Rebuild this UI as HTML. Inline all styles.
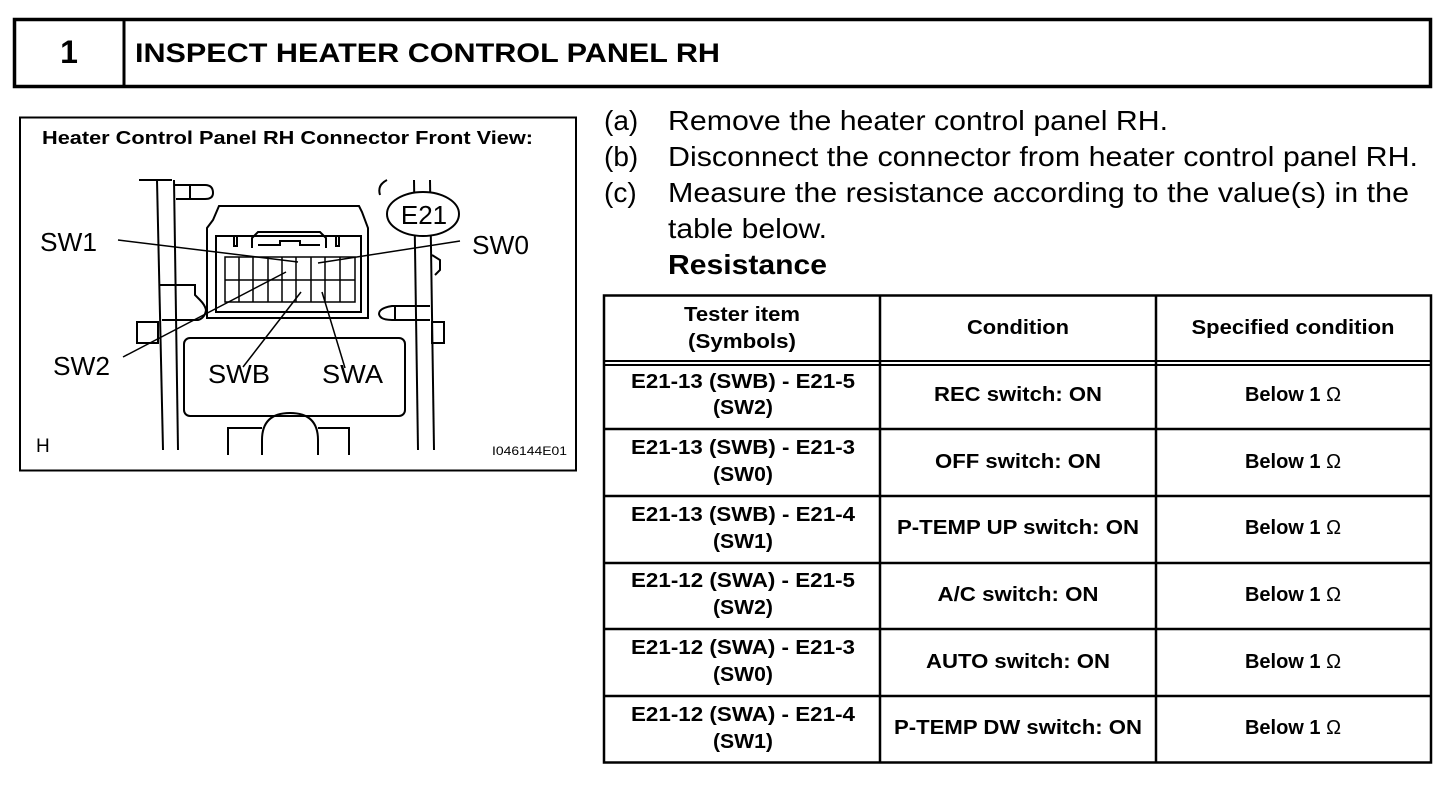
<!DOCTYPE html>
<html><head><meta charset="utf-8"><style>
html,body{margin:0;padding:0;background:#fff;}
svg{display:block;font-family:"Liberation Sans",Arial,sans-serif;}
.b{font-weight:bold;}
</style></head><body>
<svg width="1456" height="790" viewBox="0 0 1456 790" xmlns="http://www.w3.org/2000/svg">
<!-- title -->
<rect x="14.5" y="19.5" width="1416" height="67" fill="none" stroke="#000" stroke-width="3.5"/>
<line x1="124" y1="19" x2="124" y2="87" stroke="#000" stroke-width="3"/>
<text x="69" y="63" font-size="32" class="b" text-anchor="middle">1</text>
<text x="135" y="62" font-size="27" class="b" textLength="585" lengthAdjust="spacingAndGlyphs">INSPECT HEATER CONTROL PANEL RH</text>

<!-- diagram box -->
<rect x="20" y="117.5" width="556" height="353" fill="none" stroke="#000" stroke-width="2"/>
<text x="42" y="144" font-size="18" class="b" textLength="491" lengthAdjust="spacingAndGlyphs">Heater Control Panel RH Connector Front View:</text>
<g stroke="#000" stroke-width="2" fill="none">
<line x1="157" y1="180" x2="163" y2="450"/>
<line x1="174" y1="180" x2="178" y2="450"/>
<line x1="139" y1="180" x2="172" y2="180"/>
<path d="M174 185 H205 Q213 185 213 193 Q213 199 205 199 H176"/>
<line x1="190" y1="185" x2="190" y2="199"/>
<line x1="414" y1="180" x2="418" y2="450"/>
<line x1="430" y1="180" x2="434" y2="450"/>
<path d="M387 180 Q377 185 380 195"/>
<path d="M432 255 L440 260 L440 270 L435 275"/>
<path d="M160 285 H195 V295 L200 300 Q205 305 206 310 Q205 318 198 320 H162"/>
<rect x="137" y="322" width="21" height="21"/>
<rect x="432" y="322" width="12" height="21"/>
<path d="M430 306 H392 Q379 308 379 314 Q380 320 392 320 H430"/>
<line x1="395" y1="306" x2="395" y2="320"/>
<path d="M207 318 V228 L213 220 L219 206 H359 L362 212 L368 228 V318 Z"/>
<rect x="216" y="236" width="145" height="76"/>
<rect x="225" y="257" width="130" height="45" stroke-width="1.5"/>
<g stroke-width="1.5">
<line x1="225" y1="280" x2="355" y2="280"/>
<line x1="239" y1="257" x2="239" y2="302"/>
<line x1="253" y1="257" x2="253" y2="302"/>
<line x1="268" y1="257" x2="268" y2="302"/>
<line x1="282" y1="257" x2="282" y2="302"/>
<line x1="296" y1="257" x2="296" y2="302"/>
<line x1="311" y1="257" x2="311" y2="302"/>
<line x1="325" y1="257" x2="325" y2="302"/>
<line x1="340" y1="257" x2="340" y2="302"/>
</g>
<path d="M252 248 V238 L258 232 H320 L326 238 V248 M258 245 H280 V241 H300 V245 H320"/>
<rect x="234" y="236" width="3" height="10"/>
<rect x="336" y="236" width="3" height="10"/>
<rect x="184" y="338" width="221" height="78" rx="6"/>
<path d="M228 455 V428 H262 M318 428 H349 V455"/>
<path d="M262 455 V440 Q262 413 290 413 Q318 413 318 440 V455"/>
<ellipse cx="423" cy="214" rx="36" ry="22" fill="#fff"/>
<line x1="118" y1="240" x2="298" y2="262" stroke-width="1.5"/>
<line x1="460" y1="241" x2="318" y2="263" stroke-width="1.5"/>
<line x1="123" y1="357" x2="286" y2="272" stroke-width="1.5"/>
<line x1="243" y1="367" x2="301" y2="292" stroke-width="1.5"/>
<line x1="345" y1="368" x2="322" y2="292" stroke-width="1.5"/>
</g>
<text x="424" y="224" font-size="26" text-anchor="middle">E21</text>
<text x="40" y="251" font-size="26" textLength="57" lengthAdjust="spacingAndGlyphs">SW1</text>
<text x="472" y="254" font-size="26" textLength="57" lengthAdjust="spacingAndGlyphs">SW0</text>
<text x="53" y="375" font-size="26" textLength="57" lengthAdjust="spacingAndGlyphs">SW2</text>
<text x="208" y="383" font-size="26" textLength="62" lengthAdjust="spacingAndGlyphs">SWB</text>
<text x="322" y="383" font-size="26" textLength="61" lengthAdjust="spacingAndGlyphs">SWA</text>
<text x="36" y="452" font-size="19">H</text>
<text x="492" y="455" font-size="12" textLength="75" lengthAdjust="spacingAndGlyphs">I046144E01</text>

<!-- steps -->
<g font-size="28">
<text x="604" y="130">(a)</text><text x="668" y="130" textLength="500" lengthAdjust="spacingAndGlyphs">Remove the heater control panel RH.</text>
<text x="604" y="166">(b)</text><text x="668" y="166" textLength="750" lengthAdjust="spacingAndGlyphs">Disconnect the connector from heater control panel RH.</text>
<text x="604" y="202">(c)</text><text x="668" y="202" textLength="741" lengthAdjust="spacingAndGlyphs">Measure the resistance according to the value(s) in the</text>
<text x="668" y="238" textLength="159" lengthAdjust="spacingAndGlyphs">table below.</text>
<text x="668" y="274" class="b" textLength="159" lengthAdjust="spacingAndGlyphs">Resistance</text>
</g>

<!-- table -->
<g stroke="#000" stroke-width="2.5" fill="none">
<rect x="604" y="295.5" width="827" height="467"/>
<line x1="880" y1="295" x2="880" y2="763"/>
<line x1="1156" y1="295" x2="1156" y2="763"/>
<line x1="604" y1="361" x2="1431" y2="361" stroke-width="2"/>
<line x1="604" y1="365" x2="1431" y2="365" stroke-width="2"/>
<line x1="604" y1="429" x2="1431" y2="429"/>
<line x1="604" y1="496" x2="1431" y2="496"/>
<line x1="604" y1="563" x2="1431" y2="563"/>
<line x1="604" y1="629" x2="1431" y2="629"/>
<line x1="604" y1="696" x2="1431" y2="696"/>
</g>
<g font-size="20" class="b" text-anchor="middle" lengthAdjust="spacingAndGlyphs">
<text x="742" y="321" textLength="116" lengthAdjust="spacingAndGlyphs">Tester item</text><text x="742" y="348" textLength="108" lengthAdjust="spacingAndGlyphs">(Symbols)</text>
<text x="1018" y="334" textLength="102" lengthAdjust="spacingAndGlyphs">Condition</text>
<text x="1293" y="334" textLength="203" lengthAdjust="spacingAndGlyphs">Specified condition</text>

<text x="743" y="388" textLength="224" lengthAdjust="spacingAndGlyphs">E21-13 (SWB) - E21-5</text><text x="743" y="414" textLength="60" lengthAdjust="spacingAndGlyphs">(SW2)</text>
<text x="1018" y="401" textLength="168" lengthAdjust="spacingAndGlyphs">REC switch: ON</text>
<text x="743" y="454" textLength="224" lengthAdjust="spacingAndGlyphs">E21-13 (SWB) - E21-3</text><text x="743" y="481" textLength="60" lengthAdjust="spacingAndGlyphs">(SW0)</text>
<text x="1018" y="468" textLength="166" lengthAdjust="spacingAndGlyphs">OFF switch: ON</text>
<text x="743" y="521" textLength="224" lengthAdjust="spacingAndGlyphs">E21-13 (SWB) - E21-4</text><text x="743" y="548" textLength="60" lengthAdjust="spacingAndGlyphs">(SW1)</text>
<text x="1018" y="534" textLength="242" lengthAdjust="spacingAndGlyphs">P-TEMP UP switch: ON</text>
<text x="743" y="587" textLength="224" lengthAdjust="spacingAndGlyphs">E21-12 (SWA) - E21-5</text><text x="743" y="614" textLength="60" lengthAdjust="spacingAndGlyphs">(SW2)</text>
<text x="1018" y="601" textLength="161" lengthAdjust="spacingAndGlyphs">A/C switch: ON</text>
<text x="743" y="654" textLength="224" lengthAdjust="spacingAndGlyphs">E21-12 (SWA) - E21-3</text><text x="743" y="681" textLength="60" lengthAdjust="spacingAndGlyphs">(SW0)</text>
<text x="1018" y="668" textLength="184" lengthAdjust="spacingAndGlyphs">AUTO switch: ON</text>
<text x="743" y="721" textLength="224" lengthAdjust="spacingAndGlyphs">E21-12 (SWA) - E21-4</text><text x="743" y="748" textLength="60" lengthAdjust="spacingAndGlyphs">(SW1)</text>
<text x="1018" y="734" textLength="248" lengthAdjust="spacingAndGlyphs">P-TEMP DW switch: ON</text>
</g>
<g font-size="20" text-anchor="middle">
<text x="1293" y="401"><tspan class="b">Below 1 </tspan>Ω</text>
<text x="1293" y="468"><tspan class="b">Below 1 </tspan>Ω</text>
<text x="1293" y="534"><tspan class="b">Below 1 </tspan>Ω</text>
<text x="1293" y="601"><tspan class="b">Below 1 </tspan>Ω</text>
<text x="1293" y="668"><tspan class="b">Below 1 </tspan>Ω</text>
<text x="1293" y="734"><tspan class="b">Below 1 </tspan>Ω</text>
</g>
</svg>
</body></html>
